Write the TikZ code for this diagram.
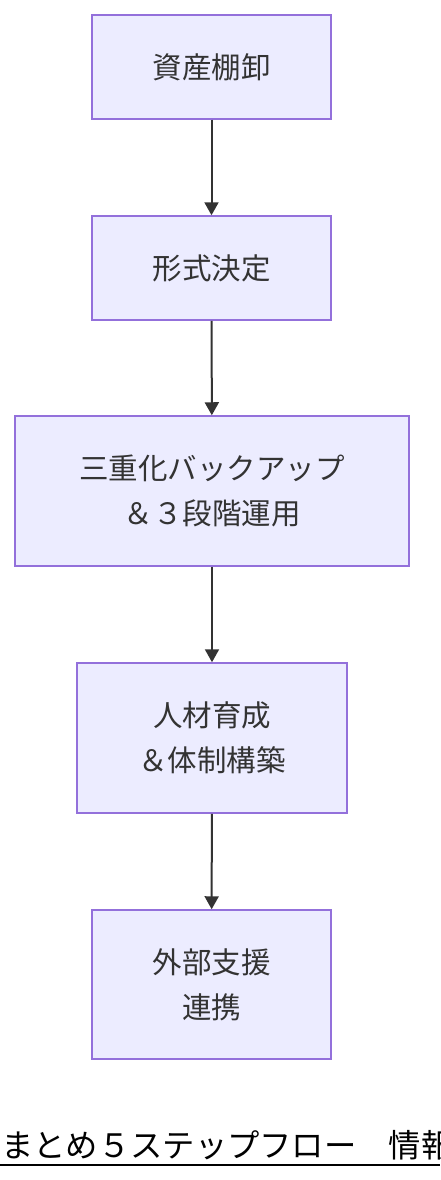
\documentclass[tikz,border=0pt]{standalone}
\usepackage{fontspec}
\setmainfont{Noto Sans CJK JP}
\usetikzlibrary{arrows.meta}
\definecolor{boxfill}{HTML}{ECECFF}
\definecolor{boxline}{HTML}{9370DB}
\definecolor{ink}{HTML}{333333}
\tikzset{
  stepbox/.style={draw=boxline, fill=boxfill, line width=1.5pt, inner sep=0pt,
    align=center, text=ink, font=\fontsize{29.5}{45}\selectfont},
  flow/.style={draw=ink, line width=2pt, -{Triangle[length=13pt,width=14pt]}}
}
\begin{document}
\begin{tikzpicture}[x=1pt,y=-1pt]
\useasboundingbox (0,0) rectangle (440,1180);
\node[stepbox, minimum width=239pt, minimum height=104pt] (s1) at (211.5,67) {資産棚卸};
\node[stepbox, minimum width=239pt, minimum height=104pt] (s2) at (211.5,268) {形式決定};
\node[stepbox, minimum width=394pt, minimum height=150pt] (s3) at (212,491) {三重化バックアップ\\＆３段階運用};
\node[stepbox, minimum width=270pt, minimum height=150pt] (s4) at (212,738) {人材育成\\＆体制構築};
\node[stepbox, minimum width=239pt, minimum height=149pt] (s5) at (211.5,984.5) {外部支援\\連携};
\draw[flow] (s1) -- (s2);
\draw[flow] (s2) -- (s3);
\draw[flow] (s3) -- (s4);
\draw[flow] (s4) -- (s5);
\begin{scope}
\clip (0,0) rectangle (440,1180);
\node[anchor=base west, inner sep=0pt, font=\fontsize{32.3}{38}\selectfont, text=black] (title) at (1,1157) {まとめ５ステップフロー　情報};
\draw[line width=2pt, black] (0,1165) -- (440,1165);
\end{scope}
\end{tikzpicture}
\end{document}
